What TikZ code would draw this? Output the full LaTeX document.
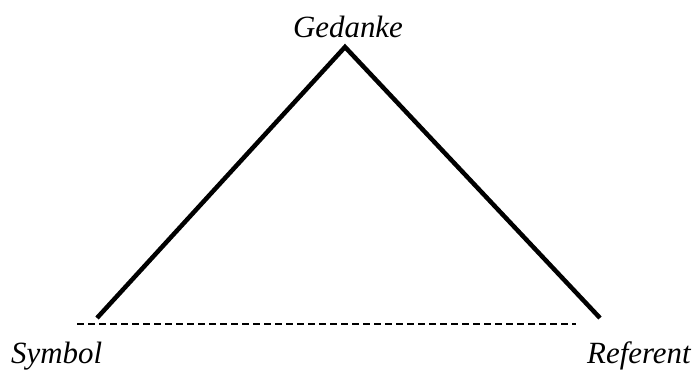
\documentclass[tikz,border=0pt]{standalone}
\usepackage{fontspec}
\setmainfont{Liberation Serif}
\begin{document}
\begin{tikzpicture}[x=1bp,y=-1bp,
  lbl/.style={font=\itshape\fontsize{31}{36}\selectfont, inner sep=0pt},
  side/.style={line width=4.5bp, line cap=butt, line join=miter},
  base/.style={line width=1.6bp, dash pattern=on 7bp off 4bp}]
\useasboundingbox (0,0) rectangle (699,374);
\coordinate (apex) at (345,47);
\coordinate (sl) at (97,318);
\coordinate (sr) at (600,318);
\coordinate (dl) at (77,324);
\coordinate (dr) at (576,324);
\draw[side] (sl) -- (apex) -- (sr);
\draw[base] (dl) -- (dr);
\node[lbl, anchor=base] (ged) at (348,37) {Gedanke};
\node[lbl, anchor=base west] (sym) at (11,363) {Symbol};
\node[lbl, anchor=base west] (ref) at (587,363) {Referent};
\end{tikzpicture}
\end{document}
